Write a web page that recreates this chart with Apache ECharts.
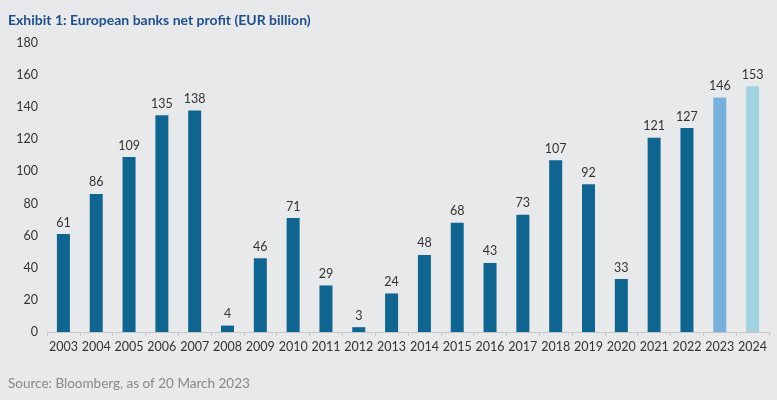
<!DOCTYPE html>
<html><head><meta charset="utf-8">
<script src="https://cdn.jsdelivr.net/npm/echarts@6/dist/echarts.min.js"></script>
<style>html,body{margin:0;padding:0;background:#e8e9eb;}#c{width:777px;height:400px;}</style>
</head><body><div id="c"></div>
<script>
var years = ['2003','2004','2005','2006','2007','2008','2009','2010','2011','2012','2013','2014','2015','2016','2017','2018','2019','2020','2021','2022','2023','2024'];
var profit = [61,86,109,135,138,4,46,71,29,3,24,48,68,43,73,107,92,33,121,127,146,153];
var barColors = ['#106590','#106590','#106590','#106590','#106590','#106590','#106590','#106590','#106590','#106590','#106590','#106590','#106590','#106590','#106590','#106590','#106590','#106590','#106590','#106590','#78b0dc','#a3d3e0'];
var chart = echarts.init(document.getElementById('c'));
chart.setOption({
  backgroundColor:'#e8e9eb',
  animation:false,
  textStyle:{fontFamily:'Lato, "Open Sans", sans-serif'},
  title:[{text:'Exhibit 1: European banks net profit (EUR billion)',left:3,top:8,textStyle:{color:'#1f4f8a',fontSize:14,fontWeight:'bold',fontFamily:'Lato, sans-serif'}},
         {text:'Source: Bloomberg, as of 20 March 2023',left:3,top:372,textStyle:{color:'#888',fontSize:13.5,fontWeight:'normal',fontFamily:'Lato, sans-serif'}}],
  grid:{left:47,right:8,top:43,bottom:68},
  xAxis:{type:'category',data:years,
    axisLine:{lineStyle:{color:'#c8c8c8'}},
    axisTick:{show:true,length:4,lineStyle:{color:'#c8c8c8'}},
    axisLabel:{color:'#333',fontSize:12.5,margin:8,interval:0}},
  yAxis:{type:'value',min:0,max:180,interval:20,
    splitLine:{show:false},axisLine:{show:false},axisTick:{show:false},
    axisLabel:{color:'#333',fontSize:12.5,margin:9}},
  series:[{type:'bar',barWidth:13,
    data:profit.map(function(v,i){return {value:v,itemStyle:{color:barColors[i]}};}),
    label:{show:true,position:'top',color:'#333',fontSize:12.5,distance:5}}]
});
</script></body></html>
